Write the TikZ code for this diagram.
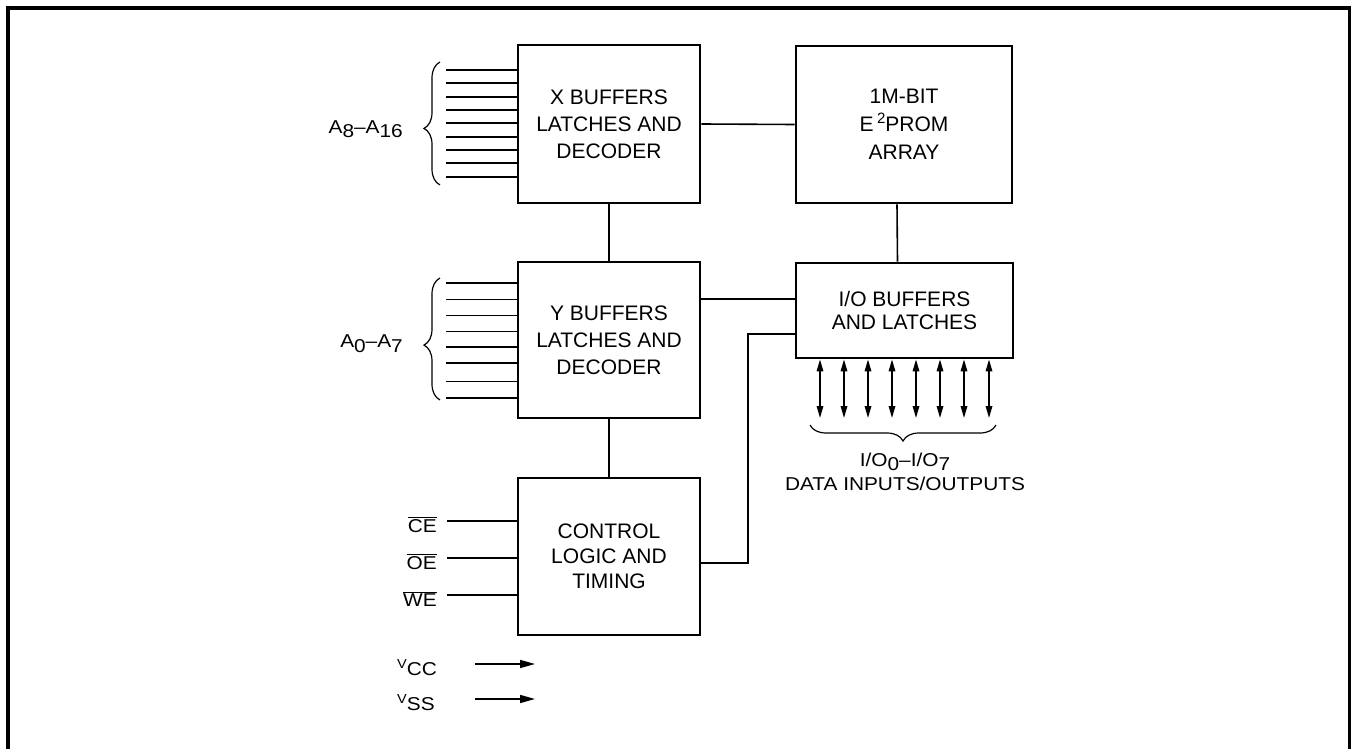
\documentclass[tikz,border=0pt]{standalone}
\usepackage{fontspec}
\setmainfont{Liberation Sans}
\newfontfamily\lblfont[FakeStretch=1.12]{Liberation Sans}
\usetikzlibrary{decorations.pathreplacing,arrows.meta}
\begin{document}
\begin{tikzpicture}[x=1pt,y=-1pt,
  blk/.style={draw, line width=2.8pt, inner sep=0pt, align=center,
    font=\fontsize{21}{27}\selectfont},
  sig/.style={line width=1.7pt},
  wire/.style={line width=1.6pt},
  lbl/.style={inner sep=0pt, font=\lblfont\fontsize{18.6}{22}\selectfont},
  brc/.style={decorate, decoration={brace, amplitude=16pt, aspect=#1}, line width=1.2pt},
  bidir/.style={line width=1.6pt, {Triangle[length=12pt,width=6.5pt]}-{Triangle[length=12pt,width=6.5pt]}},
  pwr/.style={line width=1.6pt, -{Triangle[length=15pt,width=8pt]}}]
\useasboundingbox (0,0) rectangle (1353,749);
% frame
\draw[line width=3.2pt] (8,749) -- (8,8) -- (1349.5,8) -- (1349.5,749);

% blocks
\node[blk, minimum width=182pt, minimum height=158pt] (X) at (609,124) {X BUFFERS\\LATCHES AND\\DECODER};
\node[blk, minimum width=182pt, minimum height=156pt] (Y) at (609,340) {Y BUFFERS\\LATCHES AND\\DECODER};
\node[blk, minimum width=182pt, minimum height=157pt, font=\fontsize{21}{25}\selectfont] (C) at (609,556.5) {CONTROL\\LOGIC AND\\TIMING};
\node[blk, minimum width=216pt, minimum height=157pt, font=\fontsize{21}{28}\selectfont] (E) at (904,124.5) {1M-BIT\\E\,\raisebox{8pt}{\fontsize{15}{15}\selectfont 2}PROM\\ARRAY};
\node[blk, minimum width=217pt, minimum height=95pt, font=\fontsize{21}{23}\selectfont] (IO) at (904.5,310.5) {I/O BUFFERS\\AND LATCHES};

% block connections
\draw[wire] (X.east) -- (E.west);
\draw[wire] (X.south) -- (Y.north);
\draw[wire] (Y.south) -- (C.north);
\draw[wire] ([xshift=-7pt]E.south) -- ([xshift=-7pt]IO.north);
\coordinate (yio) at (0,299);
\draw[wire] (Y.east |- yio) -- (IO.west |- yio);
\coordinate (cio) at (748,563);
\coordinate (cio2) at (748,334);
\draw[wire] (C.east |- cio) -- (cio) -- (cio2) -- (IO.west |- cio2);

% X address lines
\foreach \yy in {70,83.3,96.7,110,123.3,136.7,150,163.3,176.7}
  \draw[sig] (446,\yy) -- (X.west |- 0,\yy);
\draw[brc=0.46] (440,185) -- (440,62);
\node[lbl, anchor=base east] (ax) at (403,134) {A\raisebox{-4pt}{8}–A\raisebox{-4pt}{16}};

% Y address lines
\foreach \yy in {283.3,299.5,315.5,331.5,347,363.3,381.5,397.7}
  \draw[sig] (446,\yy) -- (Y.west |- 0,\yy);
\draw[brc=0.45] (440,400) -- (440,278);
\node[lbl, anchor=base east] (ay) at (403,347) {A\raisebox{-5pt}{0}–A\raisebox{-5pt}{7}};

% control inputs
\node[lbl, anchor=base east] (ce) at (437,532) {$\overline{\hbox{\lblfont CE}}$};
\node[lbl, anchor=base east] (oe) at (437,569) {$\overline{\hbox{\lblfont OE}}$};
\node[lbl, anchor=base east] (we) at (437,606) {$\overline{\hbox{\lblfont WE}}$};
\coordinate (cel) at (447,521);
\coordinate (oel) at (447,558);
\coordinate (wel) at (447,595);
\draw[sig] (cel) -- (C.west |- cel);
\draw[sig] (oel) -- (C.west |- oel);
\draw[sig] (wel) -- (C.west |- wel);

% power
\node[lbl, anchor=base west] (vcc) at (397,675) {\raisebox{7pt}{\fontsize{13}{13}\selectfont V}CC};
\node[lbl, anchor=base west] (vss) at (397,710) {\raisebox{7pt}{\fontsize{13}{13}\selectfont V}SS};
\coordinate (vcc1) at (475,664);
\coordinate (vcc2) at (535,664);
\coordinate (vss1) at (475,699);
\coordinate (vss2) at (535,699);
\draw[pwr] (vcc1) -- (vcc2);
\draw[pwr] (vss1) -- (vss2);

% I/O data lines
\foreach \xx in {820,844,868,892,916,940,964,989}
  \draw[bidir] (IO.south -| \xx,0) -- (\xx,418);
\draw[brc=0.5] (996,425) -- (810,425);
\node[lbl, anchor=base] (iol) at (905,466) {I/O\raisebox{-4pt}{0}–I/O\raisebox{-4pt}{7}};
\node[lbl, anchor=base] (dio) at (905,490) {DATA INPUTS/OUTPUTS};
\end{tikzpicture}
\end{document}
